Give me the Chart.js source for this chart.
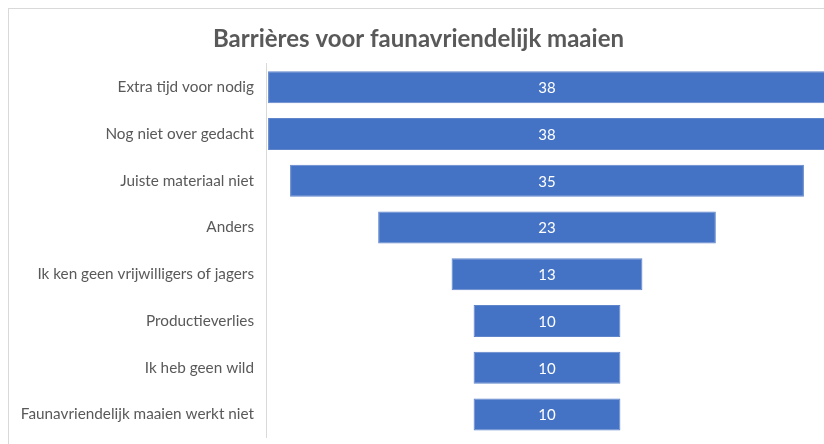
<!DOCTYPE html>
<html>
<head>
<meta charset="utf-8">
<script src="https://cdn.jsdelivr.net/npm/chart.js@4/dist/chart.umd.min.js"></script>
<style>
  html, body { margin: 0; padding: 0; overflow: hidden; background: #fff; }
  #frame {
    position: absolute; left: 8px; top: 8px;
    width: 840px; height: 450px;
    border-left: 1px solid #d9d9d9; border-top: 1px solid #d9d9d9;
  }
</style>
</head>
<body>
<div id="frame"><canvas id="funnel" width="830" height="450"></canvas></div>
<script>
const categories = [
  "Extra tijd voor nodig",
  "Nog niet over gedacht",
  "Juiste materiaal niet",
  "Anders",
  "Ik ken geen vrijwilligers of jagers",
  "Productieverlies",
  "Ik heb geen wild",
  "Faunavriendelijk maaien werkt niet"
];
const counts = [38, 38, 35, 23, 13, 10, 10, 10];
const chartTitle = "Barrières voor faunavriendelijk maaien";

// funnel: each bar centred on zero
const spans = counts.map(v => [-v / 2, v / 2]);

// white value labels in the middle of each bar
const valueLabels = {
  id: 'valueLabels',
  afterDatasetsDraw(chart) {
    const ctx = chart.ctx;
    const meta = chart.getDatasetMeta(0);
    ctx.save();
    ctx.fillStyle = '#ffffff';
    ctx.font = '15px Lato';
    ctx.textAlign = 'center';
    ctx.textBaseline = 'middle';
    meta.data.forEach((bar, i) => {
      const x = (bar.x + bar.base) / 2;
      ctx.fillText(String(counts[i]), x, bar.y + 1);
    });
    ctx.restore();
  }
};

const ctx = document.getElementById('funnel').getContext('2d');
new Chart(ctx, {
  type: 'bar',
  data: {
    labels: categories,
    datasets: [{
      data: spans,
      backgroundColor: '#4472C4',
      borderColor: '#5f85cb',
      borderWidth: 1,
      borderSkipped: false,
      categoryPercentage: 1,
      barPercentage: 0.685
    }]
  },
  options: {
    indexAxis: 'y',
    responsive: false,
    animation: false,
    layout: { padding: { top: 0, right: 11, bottom: 21, left: 0 } },
    plugins: {
      legend: { display: false },
      tooltip: { enabled: false },
      title: {
        display: true,
        text: chartTitle,
        color: '#595959',
        font: { family: 'Lato', size: 24, weight: 'bold' },
        padding: { top: 16, bottom: 10 }
      }
    },
    scales: {
      x: {
        display: false,
        min: -19.14,
        max: 19.14
      },
      y: {
        afterFit(scale) { scale.width = 257; },
        grid: { display: false, drawTicks: false },
        border: { display: true, color: '#d9d9d9', width: 1 },
        ticks: {
          color: '#595959',
          padding: 12,
          font: { family: 'Lato', size: 15.3 }
        }
      }
    }
  },
  plugins: [valueLabels]
});
</script>
</body>
</html>
